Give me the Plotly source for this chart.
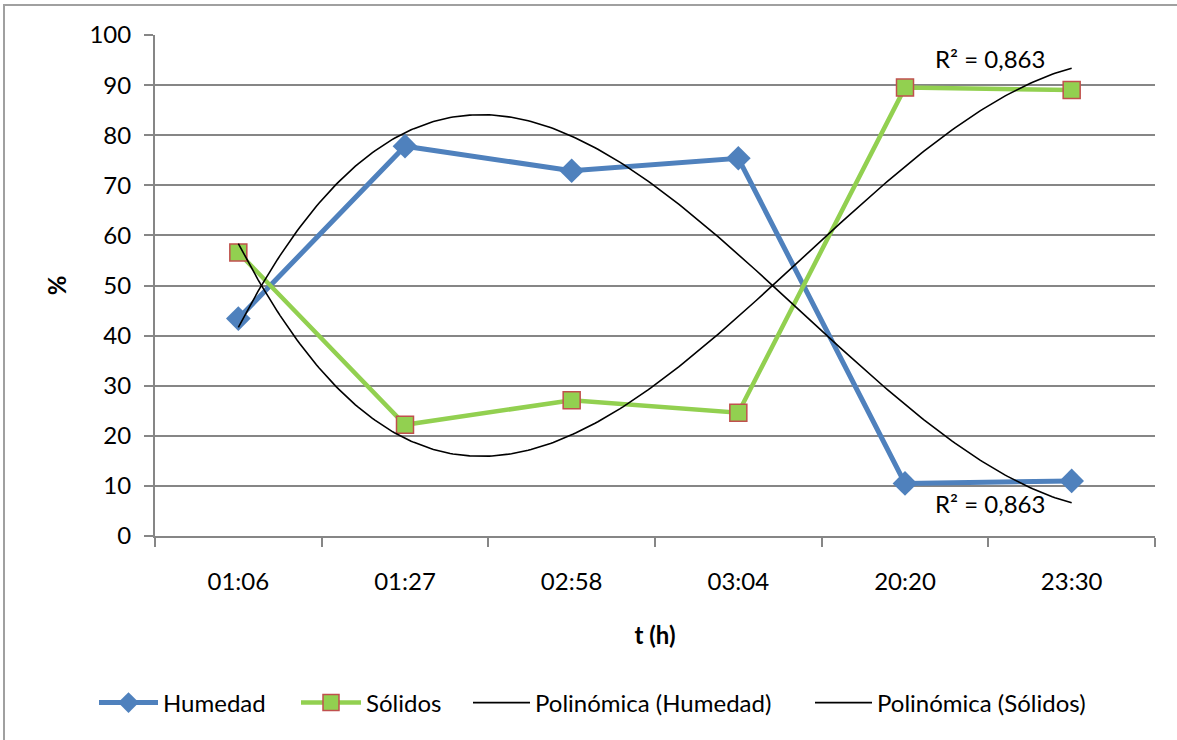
import numpy as np
import plotly.graph_objects as go

categories = ["01:06", "01:27", "02:58", "03:04", "20:20", "23:30"]
humedad = [43.4, 77.8, 72.9, 75.4, 10.5, 11.0]
solidos = [56.6, 22.2, 27.1, 24.6, 89.5, 89.0]
y_ticks = [0, 10, 20, 30, 40, 50, 60, 70, 80, 90, 100]

pos = np.arange(1, len(categories) + 1)
FONT = "Lato"
FS = 24


def poly_trend(y, order=3):
    c = np.polyfit(pos, y, order)
    fit = np.polyval(c, pos)
    y = np.asarray(y)
    r2 = 1 - np.sum((y - fit) ** 2) / np.sum((y - y.mean()) ** 2)
    xs = np.linspace(pos[0], pos[-1], 300)
    return xs, np.polyval(c, xs), r2


xh, yh, r2h = poly_trend(humedad)
xsld, ysld, r2s = poly_trend(solidos)

fig = go.Figure()
fig.add_trace(go.Scatter(
    x=pos, y=humedad, name="Humedad", mode="lines+markers", legend="legend",
    line=dict(color="#4F81BD", width=5),
    marker=dict(symbol="diamond", size=19, color="#4F81BD",
                line=dict(color="#4F81BD", width=0)),
))
fig.add_trace(go.Scatter(
    x=pos, y=solidos, name="Sólidos", mode="lines+markers", legend="legend2",
    line=dict(color="#92D050", width=4.5),
    marker=dict(symbol="square", size=17, color="#92D050",
                line=dict(color="#C0504D", width=1.5)),
))
fig.add_trace(go.Scatter(
    x=xh, y=yh, name="Polinómica (Humedad)", mode="lines", legend="legend3",
    line=dict(color="black", width=1.6),
))
fig.add_trace(go.Scatter(
    x=xsld, y=ysld, name="Polinómica (Sólidos)", mode="lines", legend="legend4",
    line=dict(color="black", width=1.6),
))

fig.add_annotation(x=pos[-1] - 0.49, y=yh[-1] - 0.1, xref="x", yref="y",
                   text=f"R² = {r2h:.3f}".replace(".", ","), showarrow=False,
                   font=dict(family=FONT, size=FS, color="black"))
fig.add_annotation(x=pos[-1] - 0.49, y=ysld[-1] + 2.0, xref="x", yref="y",
                   text=f"R² = {r2s:.3f}".replace(".", ","), showarrow=False,
                   font=dict(family=FONT, size=FS, color="black"))

# outer chart border
fig.add_shape(type="rect", xref="paper", yref="paper",
              x0=-0.151, x1=1.06, y0=-0.45, y1=1.06,
              line=dict(color="#A0A0A0", width=2), fillcolor="rgba(0,0,0,0)",
              layer="below")


def leg(xpx, iw):
    return dict(orientation="h", x=xpx / 1177, xref="container", xanchor="left",
                y=0.05, yref="container", yanchor="middle",
                font=dict(family=FONT, size=FS), itemwidth=iw,
                bgcolor="rgba(0,0,0,0)")


fig.update_layout(
    width=1177, height=740,
    margin=dict(l=155, r=22, t=35, b=204),
    paper_bgcolor="white", plot_bgcolor="white",
    font=dict(family=FONT, size=FS, color="black"),
    showlegend=True,
    legend=leg(94, 59),
    legend2=leg(296, 60),
    legend3=leg(468, 57),
    legend4=leg(810, 57),
    xaxis=dict(
        range=[0.5, len(categories) + 0.5],
        tickmode="array", tickvals=list(pos), ticktext=categories,
        ticks="", showgrid=False, zeroline=False,
        showline=True, linecolor="#868686", linewidth=2,
        tickfont=dict(family=FONT, size=FS),
        ticklabelstandoff=23,
        minor=dict(tickmode="array",
                   tickvals=[p - 0.5 for p in pos] + [pos[-1] + 0.5],
                   ticks="outside", ticklen=9, tickcolor="#868686",
                   tickwidth=2, showgrid=False),
        title=dict(text="<b>t (h)</b>", font=dict(family=FONT, size=FS),
                   standoff=33),
        fixedrange=True,
    ),
    yaxis=dict(
        range=[0, 100], tickmode="array", tickvals=y_ticks,
        showgrid=True, gridcolor="#868686", gridwidth=1.5,
        zeroline=False, showline=True, linecolor="#868686", linewidth=2,
        ticks="outside", ticklen=9, tickcolor="#868686", tickwidth=2,
        ticklabelstandoff=8,
        tickfont=dict(family=FONT, size=FS),
        title=dict(text="<b>%</b>", font=dict(family=FONT, size=FS),
                   standoff=16),
        fixedrange=True,
    ),
)

fig.write_html("out.html", config={"displayModeBar": False},
               post_script="document.body.style.margin='0';document.body.style.overflow='hidden';")
